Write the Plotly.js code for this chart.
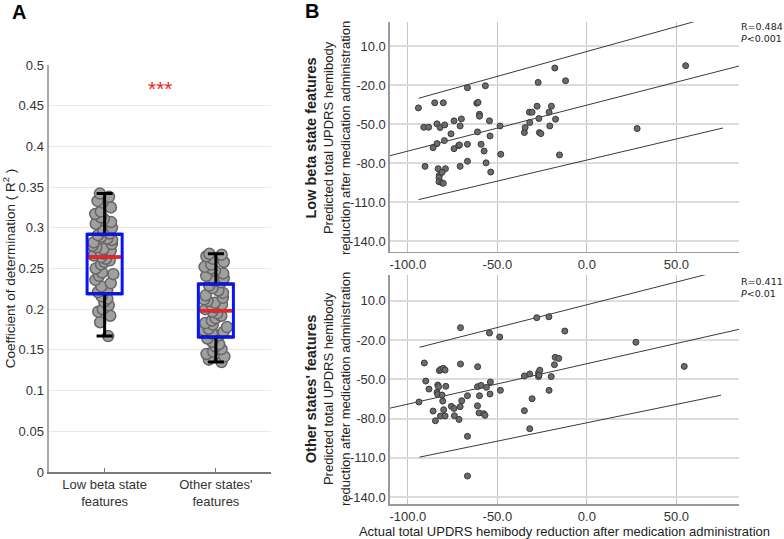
<!DOCTYPE html>
<html>
<head>
<meta charset="utf-8">
<script src="https://cdn.plot.ly/plotly-3.0.1.min.js"></script>
<style>html,body{margin:0;padding:0;background:#fff}#chart{width:784px;height:539px}</style>
</head>
<body>
<div id="chart"></div>
<script>
// ---- panel A: R^2 of the two feature sets ----
const groups = ['Low beta state<br>features', "Other states'<br>features"];
const lowBetaR2 = [0.342, 0.338, 0.333, 0.331, 0.325, 0.320, 0.317, 0.313, 0.311, 0.307, 0.305, 0.300, 0.296, 0.293,
  0.291, 0.289, 0.287, 0.285, 0.282, 0.280, 0.278, 0.276, 0.274, 0.272, 0.270, 0.268, 0.266, 0.264,
  0.262, 0.260, 0.258, 0.255, 0.250, 0.245, 0.243, 0.241, 0.236, 0.232, 0.228, 0.224, 0.221,
  0.216, 0.213, 0.209, 0.205, 0.200, 0.197, 0.192, 0.184, 0.167];
const otherR2 = [0.268, 0.267, 0.265, 0.262, 0.258, 0.255, 0.252, 0.250, 0.247, 0.244, 0.241, 0.238, 0.235, 0.233,
  0.229, 0.226, 0.223, 0.220, 0.217, 0.214, 0.212, 0.210, 0.208, 0.206, 0.204, 0.202, 0.200,
  0.197, 0.195, 0.192, 0.189, 0.186, 0.183, 0.181, 0.178, 0.176, 0.174, 0.172, 0.170, 0.168,
  0.164, 0.160, 0.157, 0.154, 0.151, 0.148, 0.145, 0.142, 0.138, 0.135];
const boxQ1 = [0.219, 0.166];
const boxMedian = [0.264, 0.198];
const boxQ3 = [0.292, 0.231];
const whiskerLow = [0.167, 0.135];
const whiskerHigh = [0.342, 0.268];
const r2Ticks = [0, 0.05, 0.1, 0.15, 0.2, 0.25, 0.3, 0.35, 0.4, 0.45, 0.5];
const r2TickText = ['0', '0.05', '0.1', '0.15', '0.2', '0.25', '0.3', '0.35', '0.4', '0.45', '0.5'];

// ---- panel B: actual vs predicted reduction ----
const lowActual = [-94.1,-91.1,-88.4,-90.4,-85.0,-85.9,-83.7,-83.7,-82.0,-80.2,-79.4,-79.6,-83.1,-79.0,-82.4,-82.6,
  -80.9,-82.6,-81.1,-80.2,-75.9,-74.2,-74.2,-71.6,-70.8,-70.1,-70.8,-71.2,-66.7,-66.7,-66.7,-61.5,-60.8,-60.0,-60.0,
  -61.1,-59.1,-57.4,-56.7,-56.3,-54.4,-54.1,-53.7,-48.5,-48.1,-34.9,-34.5,-31.9,-32.1,-30.6,-27.8,-27.2,-26.8,-26.5,
  -25.7,-21.1,-20.7,-19.8,-17.9,-17.5,-15.3,-11.9,28.1,55.2];
const lowPred = [-37.6,-52.5,-52.5,-82.6,-33.7,-68.2,-49.9,-65.1,-52.7,-33.7,-50.7,-62.8,-84.4,-84.4,-89.5,-91.3,
  -87.2,-94.4,-95.2,-95.7,-57.6,-47.6,-69.0,-66.6,-51.5,-46.1,-82.6,-66.1,-22.1,-65.6,-78.7,-34.0,-33.4,-42.5,-44.0,
  -56.1,-65.6,-70.8,-20.6,-79.9,-47.6,-59.2,-87.0,-51.5,-73.3,-56.6,-52.7,-48.9,-40.9,-40.9,-36.3,-18.0,-45.8,-56.6,
  -57.4,-40.9,-51.5,-36.3,-6.9,-46.3,-73.8,-16.7,-53.5,-5.1];
const otherActual = [-93.8,-90.8,-90.0,-88.2,-85.9,-84.6,-83.3,-82.8,-83.7,-83.3,-82.4,-81.6,-80.2,-79.2,-81.8,-80.9,
  -80.5,-80.0,-79.2,-78.8,-75.7,-74.2,-74.0,-71.4,-70.8,-69.9,-70.6,-70.6,-66.7,-66.7,-66.7,-61.1,-61.0,-61.1,-60.2,
  -60.0,-59.1,-57.6,-56.9,-56.1,-54.4,-53.9,-54.1,-48.7,-48.3,-34.9,-34.9,-31.9,-31.9,-30.6,-28.0,-27.0,-27.0,-26.7,
  -26.3,-21.2,-21.1,-19.9,-18.1,-17.7,-15.7,-12.3,27.4,54.4];
const otherPred = [-67.4,-37.6,-51.4,-57.5,-74.3,-81.7,-54.4,-55.7,-60.0,-61.6,-43.4,-42.4,-41.7,-43.0,-78.1,-62.1,
  -66.7,-73.3,-78.1,-55.4,-70.7,-72.3,-77.9,-80.7,-71.0,-66.4,-10.6,-38.4,-62.6,-93.6,-123.9,-55.7,-40.4,-70.3,-75.7,
  -62.6,-54.7,-76.3,-77.6,-56.2,-14.7,-52.1,-61.3,-17.7,-58.5,-47.5,-74.0,-46.0,-87.8,-64.9,-3.0,-45.1,-48.0,-46.7,
  -43.1,-2.3,-58.5,-48.0,-38.9,-33.3,-34.1,-13.2,-21.8,-40.2];

// fit line + 95% prediction bounds (end points)
const lowFitX = [-110, 85], lowFitY = [-74.4, -5.4];
const lowBandX = [-94, 76], lowUpperY = [-30.2, 34.9], lowLowerY = [-108.2, -53.1];
const otherFitX = [-110, 85], otherFitY = [-72.1, -11.9];
const otherBandX = [-93.5, 75], otherUpperY = [-25.6, 32.9], otherLowerY = [-109.5, -62.2];

const predTicks = [-140, -110, -80, -50, -20, 10];
const predTickText = ['-140.0', '-110.0', '-80.0', '-50.0', '-20.0', '10.0'];
const actualTicks = [-100, -50, 0, 50];
const actualTickText = ['-100.0', '-50.0', '0.0', '50.0'];

const FONT = 'Liberation Sans, Arial, sans-serif';
const boxW = 0.315;
const clear = 'rgba(0,0,0,0)';

const traces = [];
// dots
[lowBetaR2, otherR2].forEach((vals, i) => {
  traces.push({type: 'box', y: vals, x: vals.map(() => groups[i]), boxpoints: 'all', jitter: 0.75, pointpos: 0,
    width: boxW, line: {color: clear, width: 0}, fillcolor: clear,
    marker: {size: 11, color: '#a0a0a0', line: {color: '#666', width: 1.5}},
    xaxis: 'x', yaxis: 'y', showlegend: false});
});
// black whiskers with caps
traces.push({type: 'box', x: groups, q1: boxQ3, median: boxQ3, q3: boxQ3, lowerfence: boxQ3, upperfence: whiskerHigh,
  width: boxW, whiskerwidth: 0.46, line: {color: '#000', width: 3}, fillcolor: clear, boxpoints: false,
  xaxis: 'x', yaxis: 'y', showlegend: false, hoverinfo: 'skip'});
traces.push({type: 'box', x: groups, q1: boxQ1, median: boxQ1, q3: boxQ1, lowerfence: whiskerLow, upperfence: boxQ1,
  width: boxW, whiskerwidth: 0.46, line: {color: '#000', width: 3}, fillcolor: clear, boxpoints: false,
  xaxis: 'x', yaxis: 'y', showlegend: false, hoverinfo: 'skip'});
// blue boxes
traces.push({type: 'box', x: groups, q1: boxQ1, median: boxMedian, q3: boxQ3, lowerfence: boxQ1, upperfence: boxQ3,
  width: boxW, whiskerwidth: 0, line: {color: '#0a14f0', width: 3}, fillcolor: clear, boxpoints: false,
  xaxis: 'x', yaxis: 'y', showlegend: false});
// red medians
traces.push({type: 'scatter', mode: 'markers', x: groups, y: boxMedian,
  marker: {symbol: 'line-ew', size: 23, line: {color: '#e8281e', width: 3.5}},
  xaxis: 'x', yaxis: 'y', showlegend: false});

// panel B
function scatterPanel(ax, ay, xs, ys, fitX, fitY, bandX, upY, loY) {
  const lineStyle = {color: '#3a3a3a', width: 1};
  traces.push({type: 'scatter', mode: 'lines', x: fitX, y: fitY, line: lineStyle, xaxis: ax, yaxis: ay, showlegend: false});
  traces.push({type: 'scatter', mode: 'lines', x: bandX, y: upY, line: lineStyle, xaxis: ax, yaxis: ay, showlegend: false});
  traces.push({type: 'scatter', mode: 'lines', x: bandX, y: loY, line: lineStyle, xaxis: ax, yaxis: ay, showlegend: false});
  traces.push({type: 'scatter', mode: 'markers', x: xs, y: ys,
    marker: {size: 6, color: '#6b6b6b', line: {color: '#3a3a3a', width: 1}},
    xaxis: ax, yaxis: ay, showlegend: false});
}
scatterPanel('x2', 'y2', lowActual, lowPred, lowFitX, lowFitY, lowBandX, lowUpperY, lowLowerY);
scatterPanel('x3', 'y3', otherActual, otherPred, otherFitX, otherFitY, otherBandX, otherUpperY, otherLowerY);

const tickFont = {family: FONT, size: 13, color: '#333'};
const bX = {
  range: [-110, 85], tickvals: actualTicks, ticktext: actualTickText, tickfont: tickFont,
  showgrid: true, gridcolor: '#c4c4c4', gridwidth: 1, zeroline: false,
  showline: true, linecolor: '#9a9a9a', linewidth: 1.5, ticks: ''
};
const bY = {
  tickvals: predTicks, ticktext: predTickText, tickfont: tickFont,
  showgrid: true, gridcolor: '#dcdcdc', gridwidth: 2, zeroline: false,
  showline: true, linecolor: '#9a9a9a', linewidth: 1.5, ticks: ''
};
const bTitle = (bold) => '<span style="font-size:14.5px"><b>' + bold + '</b></span><br>Predicted total UPDRS hemibody<br>reduction after medication administration';

const layout = {
  width: 784, height: 539,
  margin: {l: 0, r: 0, t: 0, b: 0},
  paper_bgcolor: '#fff', plot_bgcolor: '#fff',
  font: {family: FONT, color: '#333'},
  boxmode: 'overlay',
  xaxis: {domain: [0.0625, 0.3463], type: 'category', range: [-0.5, 1.5], anchor: 'y',
    showline: true, linecolor: '#7a7a7a', linewidth: 1.5, ticks: 'inside', ticklen: 4, tickcolor: '#7a7a7a',
    showgrid: false, tickfont: tickFont},
  yaxis: {domain: [0.1243, 0.8794], range: [0, 0.5], anchor: 'x', tickvals: r2Ticks, ticktext: r2TickText,
    tickfont: tickFont, showgrid: true, gridcolor: '#e8e8e8', gridwidth: 1, zeroline: false,
    showline: true, linecolor: '#a8a8a8', linewidth: 2.5, ticks: '',
    title: {text: 'Coefficient of determination ( R<sup>2</sup> )', font: {family: FONT, size: 13.5, color: '#222'}, standoff: 8}},
  xaxis2: Object.assign({}, bX, {domain: [0.4974, 0.9426], anchor: 'y2'}),
  yaxis2: Object.assign({}, bY, {domain: [0.5325, 0.9592], range: [-148.5, 28.5], anchor: 'x2'}),
  xaxis3: Object.assign({}, bX, {domain: [0.4974, 0.9426], anchor: 'y3',
    title: {text: 'Actual total UPDRS hemibody reduction after medication administration', font: {family: FONT, size: 13, color: '#222'}, standoff: 2}}),
  yaxis3: Object.assign({}, bY, {domain: [0.0649, 0.4898], range: [-145.3, 29.6], anchor: 'x3'}),
  annotations: [
    {text: '<b>A</b>', xref: 'paper', yref: 'paper', x: 10 / 784, y: 1 - 12 / 539, xanchor: 'left', yanchor: 'middle',
      showarrow: false, font: {family: FONT, size: 20, color: '#000'}},
    {text: '<b>B</b>', xref: 'paper', yref: 'paper', x: 303 / 784, y: 1 - 11 / 539, xanchor: 'left', yanchor: 'middle',
      showarrow: false, font: {family: FONT, size: 20, color: '#000'}},
    {text: '***', xref: 'x', yref: 'y', x: 0.5, y: 0.475, yshift: -3, showarrow: false,
      font: {family: FONT, size: 21, color: '#e8281e'}},
    {text: bTitle('Low beta state features'), xref: 'paper', yref: 'paper', x: 328 / 784, y: 1 - 138 / 539,
      xanchor: 'center', yanchor: 'middle', textangle: -90, showarrow: false, font: {family: FONT, size: 13, color: '#222'}},
    {text: bTitle("Other states' features"), xref: 'paper', yref: 'paper', x: 328 / 784, y: 1 - 389 / 539,
      xanchor: 'center', yanchor: 'middle', textangle: -90, showarrow: false, font: {family: FONT, size: 13, color: '#222'}},
    {text: 'R=0.484<br><i>P</i>&lt;0.001', xref: 'paper', yref: 'paper', x: 739 / 784, y: 1 - 19 / 539,
      xanchor: 'left', yanchor: 'top', align: 'left', showarrow: false, font: {family: 'DejaVu Sans', size: 9.5, color: '#222'}},
    {text: 'R=0.411<br><i>P</i>&lt;0.01', xref: 'paper', yref: 'paper', x: 739 / 784, y: 1 - 274 / 539,
      xanchor: 'left', yanchor: 'top', align: 'left', showarrow: false, font: {family: 'DejaVu Sans', size: 9.5, color: '#222'}}
  ]
};

Plotly.newPlot('chart', traces, layout, {staticPlot: true});
</script>
</body>
</html>
